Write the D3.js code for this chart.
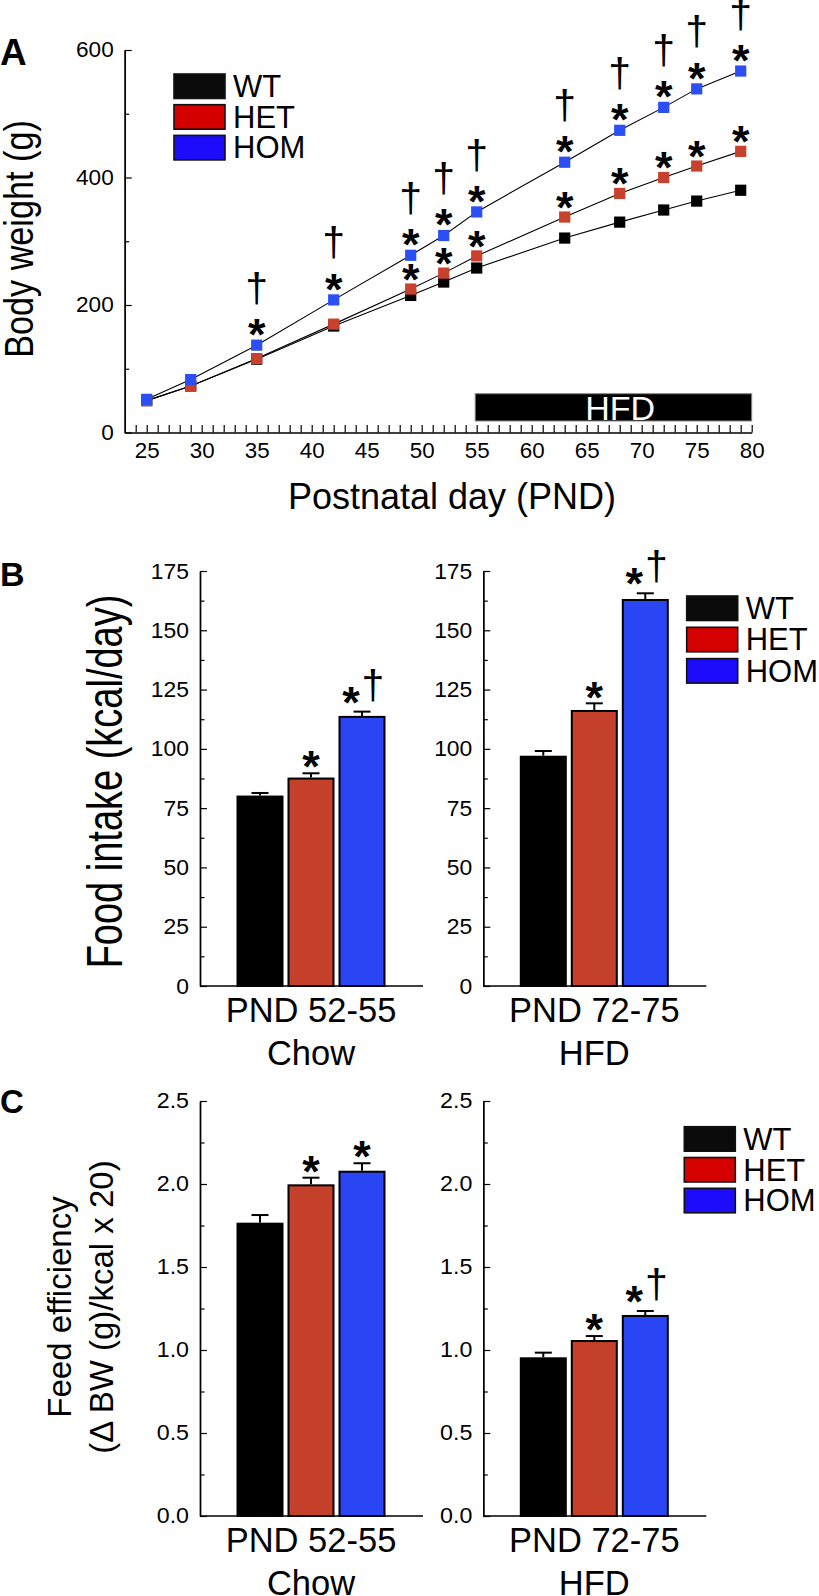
<!DOCTYPE html>
<html><head><meta charset="utf-8">
<script src="https://cdn.jsdelivr.net/npm/d3@7"></script>
<style>
body{margin:0;background:#fff}
svg{display:block}
text{font-family:"Liberation Sans",Arial,Helvetica,sans-serif;fill:#000}
</style>
</head><body>
<svg id="c" width="819" height="1596"></svg>
<script>
// ---------- DATA ----------
const genotypes = ["WT", "HET", "HOM"];
const days = [25, 29, 35, 42, 49, 52, 55, 63, 68, 72, 75, 79];
const wtWeight  = [50, 73, 115, 167, 215, 236, 258, 305, 330, 349, 363, 380];
const hetWeight = [50, 73, 116, 170, 225, 250, 277, 338, 375, 400, 418, 441];
const homWeight = [52, 83, 137, 208, 278, 309, 346, 424, 474, 510, 539, 567];
const hetStarDays = [49, 52, 55, 63, 68, 72, 75, 79];
const homStarDays = [35, 42, 49, 52, 55, 63, 68, 72, 75, 79];
const homDaggerDays = [35, 42, 49, 52, 55, 63, 68, 72, 75, 79];
const hfdPeriod = [55, 80];
const weightTicks = [0, 200, 400, 600];
const weightMinorTicks = [100, 300, 500];
const dayTicks = d3.range(24, 81);

const intakeChow = [80.3, 87.9, 113.9];
const intakeChowErr = [1.1, 1.8, 1.8];
const intakeChowSig = ["", "*", "*†"];
const intakeHFD = [97.1, 116.4, 163.2];
const intakeHFDErr = [2.0, 2.8, 2.4];
const intakeHFDSig = ["", "*", "*†"];
const intakeTicks = [0, 25, 50, 75, 100, 125, 150, 175];
const intakeMinorTicks = [12.5, 37.5, 62.5, 87.5, 112.5, 137.5, 162.5];

const effChow = [1.767, 1.998, 2.080];
const effChowErr = [0.046, 0.040, 0.045];
const effChowSig = ["", "*", "*"];
const effHFD = [0.956, 1.060, 1.211];
const effHFDErr = [0.028, 0.024, 0.024];
const effHFDSig = ["", "*", "*†"];
const effTicks = [0, 0.5, 1.0, 1.5, 2.0, 2.5];
const effMinorTicks = [0.25, 0.75, 1.25, 1.75, 2.25];

const groupLabels = [["PND 52-55", "Chow"], ["PND 72-75", "HFD"]];

// ---------- STYLE ----------
const markerColor = {WT: "#000000", HET: "#c8412c", HOM: "#2b4ff3"};
const barColor = {WT: "#000000", HET: "#c5402a", HOM: "#2a46f4"};
const legendColor = {WT: "#0b0b0b", HET: "#d50000", HOM: "#1c0cfb"};
const STAR_F = 45, STAR_K = 0.56;   // star center = baseline - K*F
const DAG_F = 41, DAG_B = 0.12;     // dagger bottom = baseline + B*F

const svg = d3.select("#c");

function txt(g, x, y, s, o = {}) {
  const t = g.append("text")
    .attr("transform", `translate(${x},${y})` + (o.rot ? ` rotate(${o.rot})` : "") + ` scale(${o.sx || 1},${o.sy || 1})`)
    .attr("font-size", o.size || 20)
    .attr("font-weight", o.weight || "normal")
    .attr("text-anchor", o.anchor || "start")
    .text(s);
  if (o.fill) t.style("fill", o.fill);
  return t;
}
function star(g, cx, cy) { txt(g, cx, cy + STAR_K * STAR_F, "*", {size: STAR_F, weight: "bold", anchor: "middle"}); }
function dagger(g, cx, bottom) { txt(g, cx, bottom - DAG_B * DAG_F, "†", {size: DAG_F, anchor: "middle"}); }

function styleAxis(sel, sx, gap, isLeft) {
  sel.select(".domain").attr("stroke", "#000").attr("stroke-width", 1.4);
  sel.selectAll(".tick line").attr("stroke", "#000").attr("stroke-width", 1.2);
  sel.selectAll("text").attr("font-family", '"Liberation Sans",Arial,sans-serif');
  if (isLeft) {
    sel.selectAll(".tick text").attr("x", -gap / sx).attr("transform", `scale(${sx},1)`);
  }
}

function legend(g, x, top, step) {
  genotypes.forEach((k, i) => {
    g.append("rect").attr("x", x).attr("y", top + i * step).attr("width", 51).attr("height", 24.5)
      .attr("fill", legendColor[k]).attr("stroke", "#111").attr("stroke-width", 1.6);
    txt(g, x + 59, top + i * step + 23, k, {size: 31});
  });
}

// ---------- PANEL A ----------
const gA = svg.append("g");
const xA = d3.scaleLinear().domain([23, 80]).range([124.7, 751.7]);
const yA = d3.scaleLinear().domain([0, 600]).range([432.5, 50]);

// HFD bar
gA.append("rect").attr("x", xA(hfdPeriod[0]) - 1.5).attr("y", 393.7)
  .attr("width", xA(hfdPeriod[1]) - xA(hfdPeriod[0]) + 1.5).attr("height", 27.3)
  .attr("fill", "#000").attr("stroke", "#888").attr("stroke-width", 1);
txt(gA, (xA(hfdPeriod[0]) + xA(hfdPeriod[1])) / 2 + 6, 419.5, "HFD", {size: 34, anchor: "middle", fill: "#fff"});

// axes
const axAyMinor = gA.append("g").attr("transform", "translate(124.7,0)")
  .call(d3.axisLeft(yA).tickValues(weightMinorTicks).tickSizeInner(-4.5).tickSizeOuter(0).tickFormat(""));
styleAxis(axAyMinor, 1, 11, false);
const axAy = gA.append("g").attr("transform", "translate(124.7,0)")
  .call(d3.axisLeft(yA).tickValues(weightTicks).tickSizeInner(-7).tickSizeOuter(0).tickPadding(11));
axAy.selectAll("text").attr("font-size", 21.5);
styleAxis(axAy, 1.05, 11, true);

const axAx = gA.append("g").attr("transform", "translate(0,432.5)")
  .call(d3.axisBottom(xA).tickValues(dayTicks).tickSizeInner(-7.5).tickSizeOuter(0).tickPadding(10.5)
    .tickFormat(d => d % 5 === 0 ? d : ""));
axAx.selectAll(".tick text").attr("font-size", 21.5).attr("transform", "scale(1.04,1)");
styleAxis(axAx, 1, 0, false);

// axis titles
txt(gA, 33, 239, "Body weight (g)", {size: 40, anchor: "middle", rot: -90, sx: 0.855});
txt(gA, 452, 509, "Postnatal day (PND)", {size: 36, anchor: "middle"});
txt(gA, 0, 65, "A", {size: 37, weight: "bold"});

// lines + markers
const series = [["WT", wtWeight], ["HET", hetWeight], ["HOM", homWeight]];
const line = d3.line().x((d, i) => xA(days[i])).y(d => yA(d));
series.forEach(([k, vals]) => {
  gA.append("path").datum(vals).attr("d", line).attr("fill", "none").attr("stroke", "#000").attr("stroke-width", 1.1);
});
series.forEach(([k, vals]) => {
  gA.selectAll(null).data(vals).enter().append("rect")
    .attr("x", (d, i) => xA(days[i]) - 5.6).attr("y", d => yA(d) - 5.6)
    .attr("width", 11.2).attr("height", 11.2).attr("fill", markerColor[k]);
});
// significance
hetStarDays.forEach(d => { const v = hetWeight[days.indexOf(d)]; star(gA, xA(d), yA(v) - 19.5); });
homStarDays.forEach(d => { const v = homWeight[days.indexOf(d)]; star(gA, xA(d), yA(v) - 20.5); });
homDaggerDays.forEach(d => { const v = homWeight[days.indexOf(d)]; dagger(gA, xA(d), yA(v) - 38.5); });

legend(gA, 174, 74, 30.7);

// ---------- BAR PANELS ----------
function barPanel(g, o) {
  const y = d3.scaleLinear().domain([0, o.max]).range([o.bottom, o.top]);
  const xb = d3.scaleBand().domain(genotypes).range([o.axisX + 36.5, o.axisX + 185.5]).paddingInner(0.0784);
  const ayMinor = g.append("g").attr("transform", `translate(${o.axisX},0)`)
    .call(d3.axisLeft(y).tickValues(o.minor).tickSizeInner(-4.5).tickSizeOuter(0).tickFormat(""));
  styleAxis(ayMinor, 1, 11, false);
  const ay = g.append("g").attr("transform", `translate(${o.axisX},0)`)
    .call(d3.axisLeft(y).tickValues(o.ticks).tickSizeInner(-7).tickSizeOuter(0).tickPadding(11).tickFormat(o.fmt));
  ay.selectAll("text").attr("font-size", o.tickSize);
  styleAxis(ay, o.tickSx, 11, true);
  g.append("line").attr("x1", o.axisX).attr("x2", o.axisX + 223).attr("y1", o.bottom).attr("y2", o.bottom)
    .attr("stroke", "#000").attr("stroke-width", 1.4);

  genotypes.forEach((k, i) => {
    const v = o.values[i], e = o.errs[i];
    const x0 = xb(k), bw = xb.bandwidth(), cx = x0 + bw / 2;
    // error bar
    g.append("line").attr("x1", cx).attr("x2", cx).attr("y1", y(v)).attr("y2", y(v + e)).attr("stroke", "#000").attr("stroke-width", 2);
    g.append("line").attr("x1", cx - 8.5).attr("x2", cx + 8.5).attr("y1", y(v + e)).attr("y2", y(v + e)).attr("stroke", "#000").attr("stroke-width", 2);
    g.append("rect").attr("x", x0 + 1).attr("y", y(v) + 1).attr("width", bw - 2).attr("height", o.bottom - y(v) - 1)
      .attr("fill", barColor[k]).attr("stroke", "#000").attr("stroke-width", 2);
    const s = o.sig[i], et = y(v + e);
    if (s === "*") star(g, cx, et - 16);
    else if (s === "*†") { star(g, cx - 11, et - 19); dagger(g, cx + 11, et - 8); }
  });
  const gc = xb("WT") + (xb("HOM") + xb.bandwidth() - xb("WT")) / 2;
  txt(g, gc, o.bottom + 35.7, o.labels[0], {size: 34.5, anchor: "middle"});
  txt(g, gc, o.bottom + 78.5, o.labels[1], {size: 34.5, anchor: "middle"});
}

const gB = svg.append("g");
const fmtInt = d3.format("d"), fmt1 = d3.format(".1f");
barPanel(gB, {axisX: 200, top: 571, bottom: 986, max: 175, ticks: intakeTicks, minor: intakeMinorTicks, fmt: fmtInt,
  tickSize: 22, tickSx: 1.04, values: intakeChow, errs: intakeChowErr, sig: intakeChowSig, labels: groupLabels[0]});
barPanel(gB, {axisX: 483.3, top: 571, bottom: 986, max: 175, ticks: intakeTicks, minor: intakeMinorTicks, fmt: fmtInt,
  tickSize: 22, tickSx: 1.04, values: intakeHFD, errs: intakeHFDErr, sig: intakeHFDSig, labels: groupLabels[1]});
txt(gB, 121.7, 781.5, "Food intake (kcal/day)", {size: 50, anchor: "middle", rot: -90, sx: 0.76});
txt(gB, 0, 586, "B", {size: 34, weight: "bold"});
legend(gB, 686.7, 596, 31.3);

const gC = svg.append("g");
barPanel(gC, {axisX: 200, top: 1101, bottom: 1516, max: 2.5, ticks: effTicks, minor: effMinorTicks, fmt: fmt1,
  tickSize: 21.5, tickSx: 1.08, values: effChow, errs: effChowErr, sig: effChowSig, labels: groupLabels[0]});
barPanel(gC, {axisX: 483.3, top: 1101, bottom: 1516, max: 2.5, ticks: effTicks, minor: effMinorTicks, fmt: fmt1,
  tickSize: 21.5, tickSx: 1.08, values: effHFD, errs: effHFDErr, sig: effHFDSig, labels: groupLabels[1]});
txt(gC, 71, 1307, "Feed efficiency", {size: 33, anchor: "middle", rot: -90});
txt(gC, 113, 1307, "(Δ BW (g)/kcal x 20)", {size: 33, anchor: "middle", rot: -90});
txt(gC, 0, 1113, "C", {size: 33, weight: "bold"});
legend(gC, 684.3, 1126.7, 30.8);
</script>
</body></html>
